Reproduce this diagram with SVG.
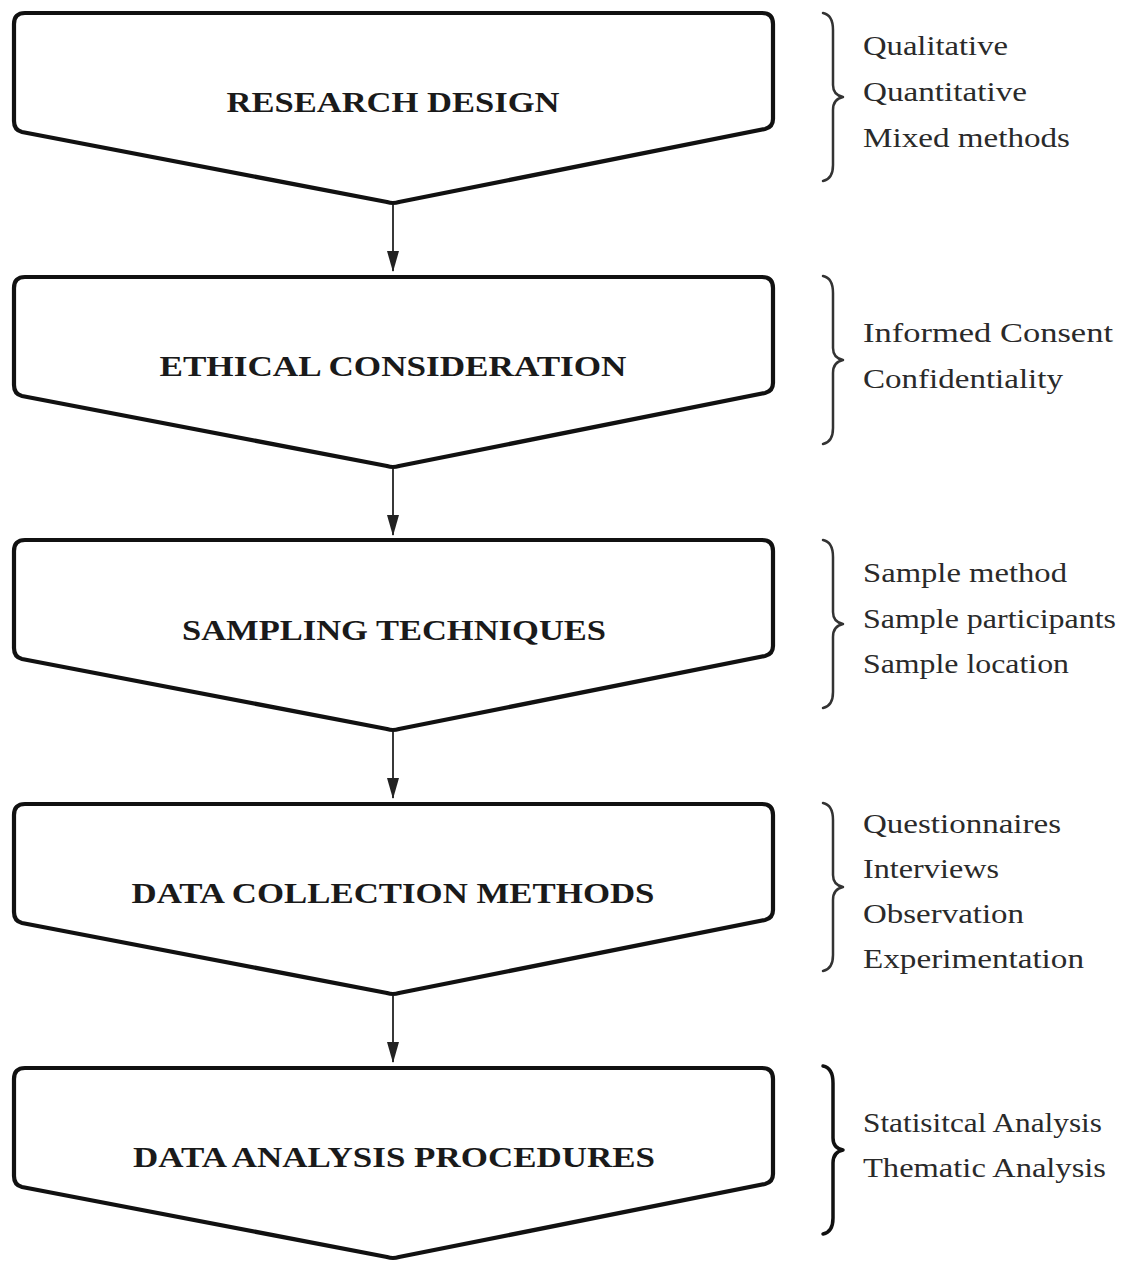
<svg xmlns="http://www.w3.org/2000/svg" width="1129" height="1268" viewBox="0 0 1129 1268">
<defs>
<style>
.box{fill:#fff;stroke:#111;stroke-width:4.2;stroke-linejoin:round}
.title{font-family:"Liberation Serif","Times New Roman",serif;font-weight:bold;font-size:30px;fill:#1a1a1a;text-anchor:middle}
.item{font-family:"Liberation Serif","Times New Roman",serif;font-size:27px;fill:#2a2a2a}
.brace{fill:none;stroke:#333;stroke-width:2.5;stroke-linecap:round;stroke-linejoin:round}
.conn{stroke:#222;stroke-width:1.8;fill:none}
</style>
<path id="shape" d="M 25,13 H 762 Q 773,13 773,24 V 119 Q 773,127 765,129 L 399,202 Q 393,204 387,202 L 22,132 Q 14,130 14,121 V 24 Q 14,13 25,13 Z"/>
<marker id="arr" markerWidth="12" markerHeight="21" refX="6" refY="20" orient="auto" markerUnits="userSpaceOnUse" viewBox="0 0 12 21">
<path d="M0,0 L12,10.5 L0,21 Z" fill="#222" transform="rotate(0)"/>
</marker>
<marker id="arrDown" markerWidth="12" markerHeight="21" refX="6" refY="20" orient="0" markerUnits="userSpaceOnUse" viewBox="0 0 12 21">
<path d="M0,0 L12,0 L6,21 Z" fill="#222"/>
</marker>
</defs>
<rect width="1129" height="1268" fill="#fff"/>

<g id="connectors">
<line class="conn" x1="393" y1="205" x2="393" y2="271" marker-end="url(#arrDown)"/>
<line class="conn" x1="393" y1="469" x2="393" y2="535" marker-end="url(#arrDown)"/>
<line class="conn" x1="393" y1="732" x2="393" y2="798" marker-end="url(#arrDown)"/>
<line class="conn" x1="393" y1="996" x2="393" y2="1062" marker-end="url(#arrDown)"/>
</g>

<g id="node1">
<use href="#shape" class="box"/>
<text class="title" x="393" y="112" textLength="333" lengthAdjust="spacingAndGlyphs">RESEARCH DESIGN</text>
</g>
<g id="node2">
<use href="#shape" class="box" transform="translate(0,264)"/>
<text class="title" x="393" y="376" textLength="467" lengthAdjust="spacingAndGlyphs">ETHICAL CONSIDERATION</text>
</g>
<g id="node3">
<use href="#shape" class="box" transform="translate(0,527)"/>
<text class="title" x="394" y="640" textLength="424" lengthAdjust="spacingAndGlyphs">SAMPLING TECHNIQUES</text>
</g>
<g id="node4">
<use href="#shape" class="box" transform="translate(0,791)"/>
<text class="title" x="393" y="903" textLength="523" lengthAdjust="spacingAndGlyphs">DATA COLLECTION METHODS</text>
</g>
<g id="node5">
<use href="#shape" class="box" transform="translate(0,1055)"/>
<text class="title" x="394" y="1167" textLength="522" lengthAdjust="spacingAndGlyphs">DATA ANALYSIS PROCEDURES</text>
</g>

<g id="note1">
<path class="brace" d="M823,13 Q833,15 833,30 V85 Q833,95 843,97 Q833,99 833,110 V165 Q833,179 823,181"/>
<text class="item" x="863" y="55" textLength="145" lengthAdjust="spacingAndGlyphs">Qualitative</text>
<text class="item" x="863" y="101" textLength="164" lengthAdjust="spacingAndGlyphs">Quantitative</text>
<text class="item" x="863" y="147" textLength="207" lengthAdjust="spacingAndGlyphs">Mixed methods</text>
</g>
<g id="note2">
<path class="brace" d="M823,276 Q833,278 833,293 V348 Q833,358 843,360 Q833,362 833,373 V428 Q833,442 823,444"/>
<text class="item" x="863" y="342" textLength="250" lengthAdjust="spacingAndGlyphs">Informed  Consent</text>
<text class="item" x="863" y="388" textLength="200" lengthAdjust="spacingAndGlyphs">Confidentiality</text>
</g>
<g id="note3">
<path class="brace" d="M823,540 Q833,542 833,557 V612 Q833,622 843,624 Q833,626 833,637 V692 Q833,706 823,708"/>
<text class="item" x="863" y="582" textLength="204" lengthAdjust="spacingAndGlyphs">Sample method</text>
<text class="item" x="863" y="628" textLength="253" lengthAdjust="spacingAndGlyphs">Sample participants</text>
<text class="item" x="863" y="673" textLength="206" lengthAdjust="spacingAndGlyphs">Sample location</text>
</g>
<g id="note4">
<path class="brace" d="M823,803 Q833,805 833,820 V875 Q833,885 843,887 Q833,889 833,900 V955 Q833,969 823,971"/>
<text class="item" x="863" y="833" textLength="198" lengthAdjust="spacingAndGlyphs">Questionnaires</text>
<text class="item" x="863" y="878" textLength="136" lengthAdjust="spacingAndGlyphs">Interviews</text>
<text class="item" x="863" y="923" textLength="161" lengthAdjust="spacingAndGlyphs">Observation</text>
<text class="item" x="863" y="968" textLength="221" lengthAdjust="spacingAndGlyphs">Experimentation</text>
</g>
<g id="note5">
<path class="brace" style="stroke:#111;stroke-width:3.5" d="M823,1066 Q833,1068 833,1083 V1138 Q833,1148 843,1150 Q833,1152 833,1163 V1218 Q833,1232 823,1234"/>
<text class="item" x="863" y="1132" textLength="239" lengthAdjust="spacingAndGlyphs">Statisitcal Analysis</text>
<text class="item" x="863" y="1177" textLength="243" lengthAdjust="spacingAndGlyphs">Thematic Analysis</text>
</g>
</svg>
